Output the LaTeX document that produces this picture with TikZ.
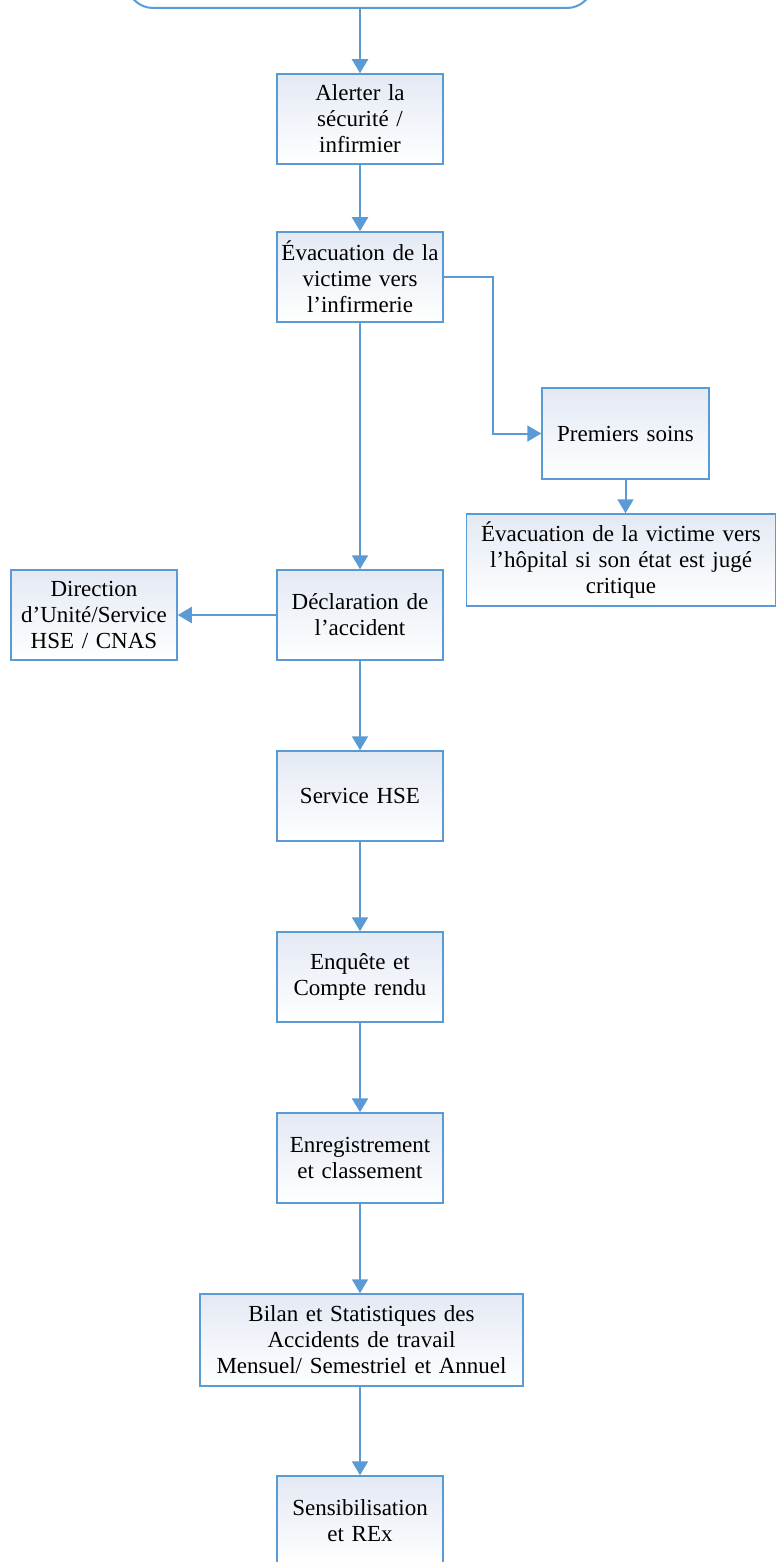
\documentclass[tikz,border=0pt]{standalone}
\usepackage{fontspec}
\setmainfont{Liberation Serif}
\usetikzlibrary{arrows.meta}
\definecolor{bline}{HTML}{5B9BD5}
\definecolor{btop}{HTML}{E3E9F4}
\tikzset{
  box/.style={draw=bline, line width=1.5pt, top color=btop, bottom color=white,
    inner xsep=0pt, inner ysep=2pt, align=center, text width=166pt, minimum height=90pt,
    font=\fontsize{23}{26}\selectfont},
  conn/.style={draw=bline, line width=2pt, -{Triangle[width=16pt,length=14pt]}},
  plain/.style={draw=bline, line width=2pt}
}
\begin{document}
\begin{tikzpicture}[x=1pt,y=-1pt]
\useasboundingbox (0,0) rectangle (776,1562);
\clip (0,0) rectangle (776,1562);
\fill[white] (0,0) rectangle (776,1562);
\node[draw=bline, line width=2pt, fill=white, rounded corners=26pt, minimum width=466pt, minimum height=80pt, inner sep=0pt] (top) at (360,-32) {};
\node[box] (alert) at (360,119) {Alerter la\\sécurité /\\infirmier};
\node[box] (evac) at (360,277) {Évacuation de la\\victime vers\\l’infirmerie};
\node[box, text width=167pt, minimum height=91pt] (soins) at (625.5,433.5) {Premiers soins};
\node[box, text width=309pt, minimum height=92pt] (hosp) at (621,560) {Évacuation de la victime vers\\l’hôpital si son état est jugé\\critique};
\node[box] (decl) at (360,615) {Déclaration de\\l’accident};
\node[box] (dir) at (94,615) {Direction\\d’Unité/Service\\HSE / CNAS};
\node[box] (hse) at (360,796) {Service HSE};
\node[box] (enq) at (360,977) {Enquête et\\Compte rendu};
\node[box] (enr) at (360,1158) {Enregistrement\\et classement};
\node[box, text width=323pt, minimum height=92pt] (bilan) at (361.5,1340) {Bilan et Statistiques des\\Accidents de travail\\Mensuel/ Semestriel et Annuel};
\node[box] (sens) at (360,1521) {Sensibilisation\\et REx};

\draw[conn] (top.south) -- (alert.north);
\draw[conn] (alert.south) -- (evac.north);
\draw[conn] (evac.south) -- (decl.north);
\draw[conn] (evac.east) -- ++(49,0) |- (soins.west);
\draw[conn] (soins.south) -- (soins.south |- hosp.north);
\draw[conn] (decl.west) -- (dir.east);
\draw[conn] (decl.south) -- (hse.north);
\draw[conn] (hse.south) -- (enq.north);
\draw[conn] (enq.south) -- (enr.north);
\draw[conn] (enr.south) -- (bilan.north -| enr.south);
\draw[conn] (bilan.south -| sens.north) -- (sens.north);
\end{tikzpicture}
\end{document}
